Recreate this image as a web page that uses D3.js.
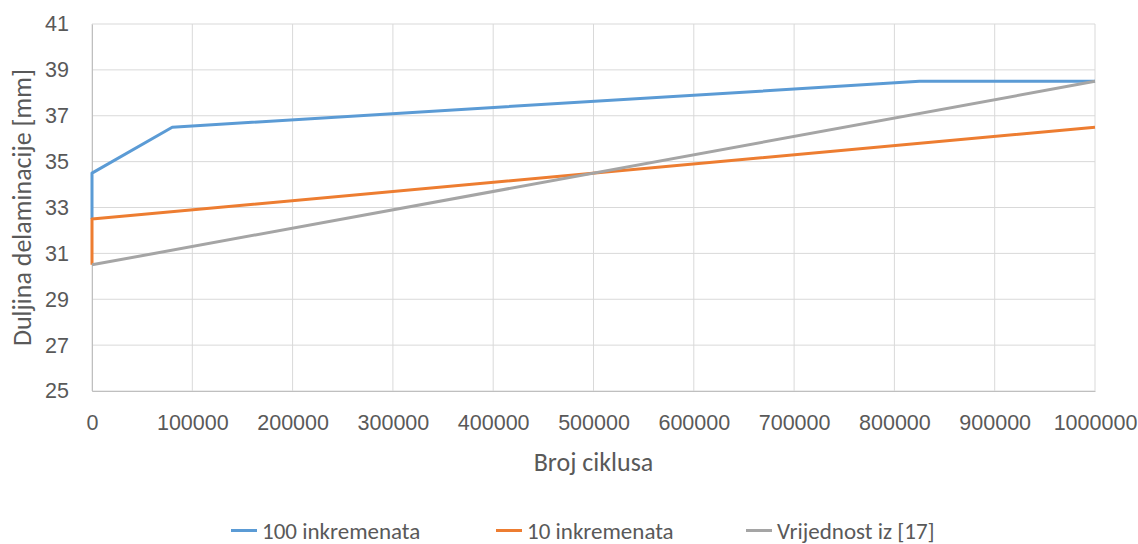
<!DOCTYPE html>
<html>
<head>
<meta charset="utf-8">
<script src="https://cdn.jsdelivr.net/npm/d3@7"></script>
<style>
  html, body { margin: 0; padding: 0; background: #fff; }
  svg { display: block; font-family: Carlito, Lato, "Open Sans", sans-serif; }
</style>
</head>
<body>
<svg id="chart" width="1138" height="544"></svg>
<script>
// Delamination length vs. number of cycles
const seriesNames = ["100 inkremenata", "10 inkremenata", "Vrijednost iz [17]"];
const seriesColors = ["#5b9bd5", "#ed7d31", "#a5a5a5"];
const cycles100 = [0, 0, 80000, 825000, 1000000];
const length100 = [32.5, 34.5, 36.5, 38.5, 38.5];
const cycles10 = [0, 0, 1000000];
const length10 = [30.5, 32.5, 36.5];
const cyclesRef = [0, 1000000];
const lengthRef = [30.5, 38.5];
const xTicks = [0, 100000, 200000, 300000, 400000, 500000, 600000, 700000, 800000, 900000, 1000000];
const yTicks = [25, 27, 29, 31, 33, 35, 37, 39, 41];

const series = [
  { name: seriesNames[0], color: seriesColors[0], xs: cycles100, ys: length100 },
  { name: seriesNames[1], color: seriesColors[1], xs: cycles10, ys: length10 },
  { name: seriesNames[2], color: seriesColors[2], xs: cyclesRef, ys: lengthRef }
];

const svg = d3.select("#chart");
const plotL = 92, plotR = 1095, plotT = 24, plotB = 391;
const x = d3.scaleLinear().domain([0, 1000000]).range([plotL, plotR]);
const y = d3.scaleLinear().domain([25, 41]).range([plotB, plotT]);
const textColor = "#595959";
const tickFont = 21.5;

// grid
const grid = svg.append("g");
grid.selectAll("line.h").data(yTicks).join("line")
  .attr("x1", plotL).attr("x2", plotR)
  .attr("y1", d => y(d)).attr("y2", d => y(d))
  .attr("stroke", "#d9d9d9").attr("stroke-width", 1);
grid.selectAll("line.v").data(xTicks).join("line")
  .attr("y1", plotT).attr("y2", plotB)
  .attr("x1", d => x(d)).attr("x2", d => x(d))
  .attr("stroke", "#d9d9d9").attr("stroke-width", 1);

// axes
const xAxis = svg.append("g").attr("transform", `translate(0,${plotB})`)
  .call(d3.axisBottom(x).tickValues(xTicks).tickFormat(d3.format("d")).tickSize(0).tickPadding(24));
xAxis.select(".domain").attr("stroke", "#bfbfbf");
xAxis.selectAll("text").attr("fill", textColor).attr("font-size", tickFont).attr("font-family", null);

const yAxis = svg.append("g").attr("transform", `translate(${plotL},0)`)
  .call(d3.axisLeft(y).tickValues(yTicks).tickFormat(d3.format("d")).tickSize(0).tickPadding(23));
yAxis.select(".domain").attr("stroke", "#bfbfbf");
yAxis.selectAll("text").attr("fill", textColor).attr("font-size", tickFont).attr("font-family", null);

// lines
const line = d3.line().x(d => x(d[0])).y(d => y(d[1]));
series.forEach(s => {
  svg.append("path")
    .datum(s.xs.map((v, i) => [v, s.ys[i]]))
    .attr("d", line)
    .attr("fill", "none")
    .attr("stroke", s.color)
    .attr("stroke-width", 3)
    .attr("stroke-linejoin", "round");
});

// axis titles
svg.append("text")
  .attr("x", (plotL + plotR) / 2).attr("y", 471)
  .attr("text-anchor", "middle").attr("fill", textColor).attr("font-size", 26)
  .text("Broj ciklusa");
svg.append("text")
  .attr("transform", `translate(31,${(plotT + plotB) / 2}) rotate(-90)`)
  .attr("text-anchor", "middle").attr("fill", textColor).attr("font-size", 26)
  .text("Duljina delaminacije [mm]");

// legend
const legendTextX = [262, 527, 777];
const legend = svg.append("g");
series.forEach((s, i) => {
  const g = legend.append("g").attr("transform", `translate(${legendTextX[i]},0)`);
  g.append("line").attr("x1", -31).attr("x2", -5).attr("y1", 530.5).attr("y2", 530.5)
    .attr("stroke", s.color).attr("stroke-width", 3);
  g.append("text").attr("x", 0).attr("y", 538.5).attr("fill", textColor).attr("font-size", 23)
    .text(s.name);
});
</script>
</body>
</html>
